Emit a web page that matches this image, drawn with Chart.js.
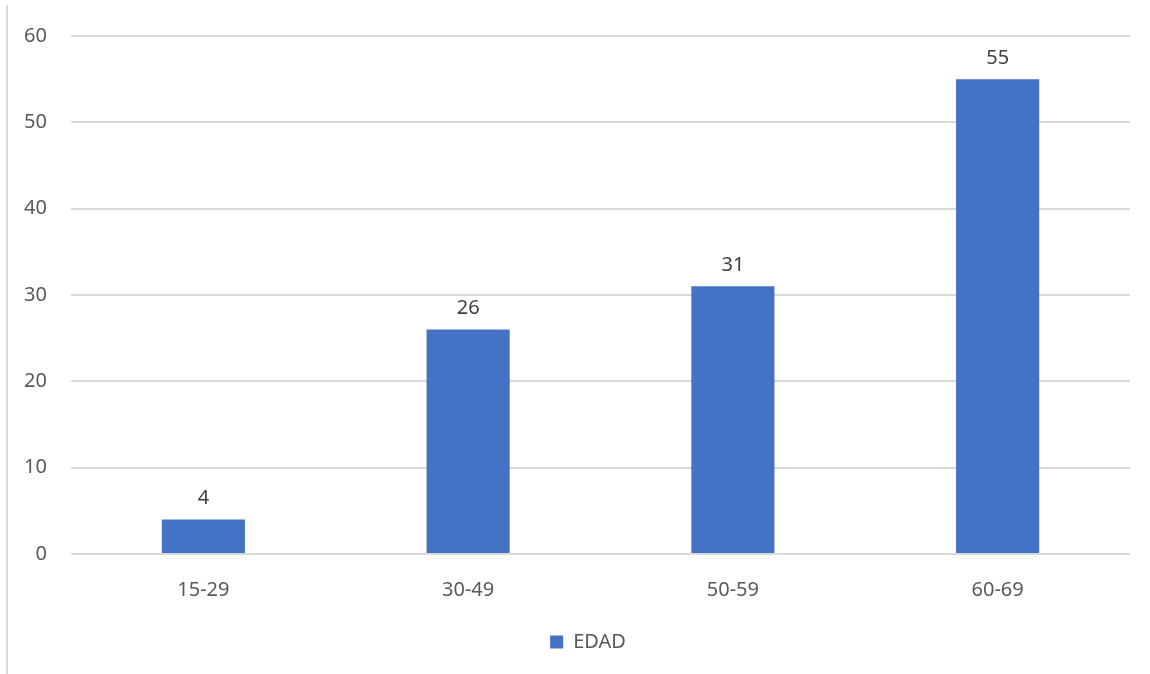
<!DOCTYPE html>
<html>
<head>
<meta charset="utf-8">
<script src="https://cdn.jsdelivr.net/npm/chart.js@4/dist/chart.umd.min.js"></script>
<style>
  html, body { margin: 0; padding: 0; background: #fff; }
  #wrap { position: relative; width: 1150px; height: 674px; }
  #edge { position: absolute; left: 6px; top: 5px; width: 2px; height: 669px; background: #d9d9d9; }
</style>
</head>
<body>
<div id="wrap">
  <div id="edge"></div>
  <canvas id="chart" width="1150" height="674"></canvas>
</div>
<script>
const categories = ['15-29', '30-49', '50-59', '60-69'];
const edadValues = [4, 26, 31, 55];
const seriesName = 'EDAD';

const textColor = '#595959';
const fontFamily = "'Noto Sans', 'Open Sans', sans-serif";

// numbers above each bar
const barLabels = {
    id: 'barLabels',
    afterDatasetsDraw(chart) {
        const ctx = chart.ctx;
        ctx.save();
        ctx.font = '20px ' + fontFamily;
        ctx.fillStyle = '#404040';
        ctx.textAlign = 'center';
        ctx.textBaseline = 'middle';
        chart.getDatasetMeta(0).data.forEach((bar, i) => {
            ctx.fillText(String(edadValues[i]), bar.x, bar.y - 21);
        });
        ctx.restore();
    }
};

// legend sits a bit right of centre in the original
const legendShift = {
    id: 'legendShift',
    afterLayout(chart) {
        if (chart.legend) {
            chart.legend.left += 23;
            chart.legend.right += 23;
        }
    }
};

new Chart(document.getElementById('chart'), {
    type: 'bar',
    data: {
        labels: categories,
        datasets: [{
            label: seriesName,
            data: edadValues,
            backgroundColor: '#4472c4',
            categoryPercentage: 1,
            barPercentage: 0.314
        }]
    },
    options: {
        responsive: false,
        animation: false,
        layout: { padding: { top: 35, right: 20, bottom: 12, left: 0 } },
        scales: {
            x: {
                grid: { display: false, drawTicks: false },
                border: { display: false },
                ticks: { color: textColor, font: { family: fontFamily, size: 20 }, padding: 24 },
                afterFit(scale) { scale.height = 68; }
            },
            y: {
                min: 0,
                max: 60,
                ticks: { stepSize: 10, color: textColor, font: { family: fontFamily, size: 20 }, padding: 24 },
                grid: { color: '#d9d9d9', lineWidth: 2, drawTicks: false },
                border: { display: false },
                afterFit(scale) { scale.width = 71; }
            }
        },
        plugins: {
            legend: {
                position: 'bottom',
                labels: {
                    color: textColor,
                    font: { family: fontFamily, size: 20 },
                    boxWidth: 13,
                    boxHeight: 13,
                    padding: 10
                }
            },
            tooltip: { enabled: false }
        }
    },
    plugins: [barLabels, legendShift]
});
</script>
</body>
</html>
